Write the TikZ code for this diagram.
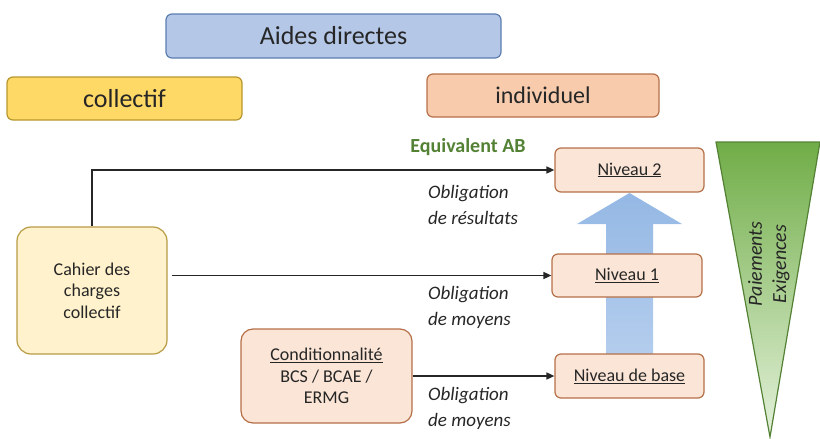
\documentclass[tikz,border=0pt]{standalone}
\usepackage{fontspec}
\setmainfont{Carlito}
\usetikzlibrary{arrows.meta,calc}
\definecolor{txt}{HTML}{262626}
\definecolor{aidesfill}{HTML}{B4C7E7}
\definecolor{aidesdraw}{HTML}{5B7DB0}
\definecolor{collfill}{HTML}{FFD966}
\definecolor{colldraw}{HTML}{B8962E}
\definecolor{indfill}{HTML}{F8CBAD}
\definecolor{inddraw}{HTML}{B5704A}
\definecolor{nivfill}{HTML}{FBE5D6}
\definecolor{cahfill}{HTML}{FFF2CC}
\definecolor{cahdraw}{HTML}{B89B45}
\definecolor{eqgreen}{HTML}{548235}
\definecolor{arrtop}{HTML}{8EB4E3}
\definecolor{arrbot}{HTML}{B0CAEC}
\definecolor{tritop}{HTML}{70AD47}
\definecolor{tribot}{HTML}{E4F1DB}
\tikzset{
  box/.style={rounded corners=6pt, line width=1.2pt, inner sep=0pt, text=txt, align=center},
  headbox/.style={box, font=\fontsize{26}{30}\selectfont},
  nivbox/.style={box, fill=nivfill, draw=inddraw, minimum width=149pt, minimum height=44pt,
                 font=\fontsize{18}{22}\selectfont},
  conn/.style={line width=1.6pt, draw=txt, -{Triangle[length=8pt,width=7pt]}},
  oblig/.style={anchor=west, align=left, inner sep=0pt, text=txt,
                font=\fontsize{19}{26}\selectfont\itshape},
  sidetxt/.style={rotate=90, inner sep=0pt, text=txt, font=\fontsize{20}{24}\selectfont\itshape}
}
\begin{document}
\begin{tikzpicture}[x=1pt,y=-1pt]
\useasboundingbox (0,0) rectangle (820,439);
% triangle
\shade[top color=tritop, bottom color=tribot] (716,142) -- (820,142) -- (770,437) -- cycle;
\draw[eqgreen, line width=1.2pt, line join=miter] (716,142) -- (820,142) -- (770,437) -- cycle;
\node[sidetxt] (paie) at (755,264) {Paiements};
\node[sidetxt] (exig) at (781,264) {Exigences};
% blue arrow
\shade[top color=arrtop, bottom color=arrbot, opacity=0.95]
  (606,354) -- (606,224) -- (577,224) -- (629.5,193) -- (682,224) -- (653,224) -- (653,354) -- cycle;
% header boxes
\node[headbox, fill=aidesfill, draw=aidesdraw, minimum width=335pt, minimum height=44pt] (aides) at (333.5,36) {Aides directes};
\node[headbox, fill=collfill, draw=colldraw, minimum width=235pt, minimum height=43pt] (coll) at (124.5,98.5) {collectif};
\node[headbox, fill=indfill, draw=inddraw, minimum width=232pt, minimum height=43pt,
      font=\fontsize{24}{28}\selectfont] (ind) at (543,95.5) {individuel};
% niveau boxes
\node[nivbox] (niv2) at (629.5,170) {\underline{Niveau 2}};
\node[nivbox, minimum width=150pt, minimum height=43pt] (niv1) at (627,275.5) {\underline{Niveau 1}};
\node[nivbox] (nivb) at (629.5,376) {\underline{Niveau de base}};
% left boxes
\node[box, rounded corners=14pt, fill=cahfill, draw=cahdraw, minimum width=150pt, minimum height=127pt,
      font=\fontsize{18}{21.5}\selectfont] (cah) at (92,290.5) {Cahier des\\charges\\collectif};
\node[box, rounded corners=12pt, fill=nivfill, draw=inddraw, minimum width=171pt, minimum height=94pt,
      font=\fontsize{18}{21.5}\selectfont] (cond) at (326.5,376) {\underline{Conditionnalité}\\BCS / BCAE /\\ERMG};
% connectors
\draw[conn] (cah.north) |- (niv2.west);
\coordinate (midstart) at ([xshift=4pt]cah.east |- niv1.west);
\draw[conn] (midstart) -- (niv1.west);
\draw[conn] (cond.east) -- (nivb.west);
% labels
\node[inner sep=0pt, text=eqgreen, font=\fontsize{20}{24}\selectfont\bfseries] (eq) at (468,147) {Equivalent AB};
\node[oblig] (ob1) at (428,205) {Obligation\\de résultats};
\node[oblig] (ob2) at (428,307.5) {Obligation\\de moyens};
\node[oblig] (ob3) at (428,408.5) {Obligation\\de moyens};
\end{tikzpicture}
\end{document}
